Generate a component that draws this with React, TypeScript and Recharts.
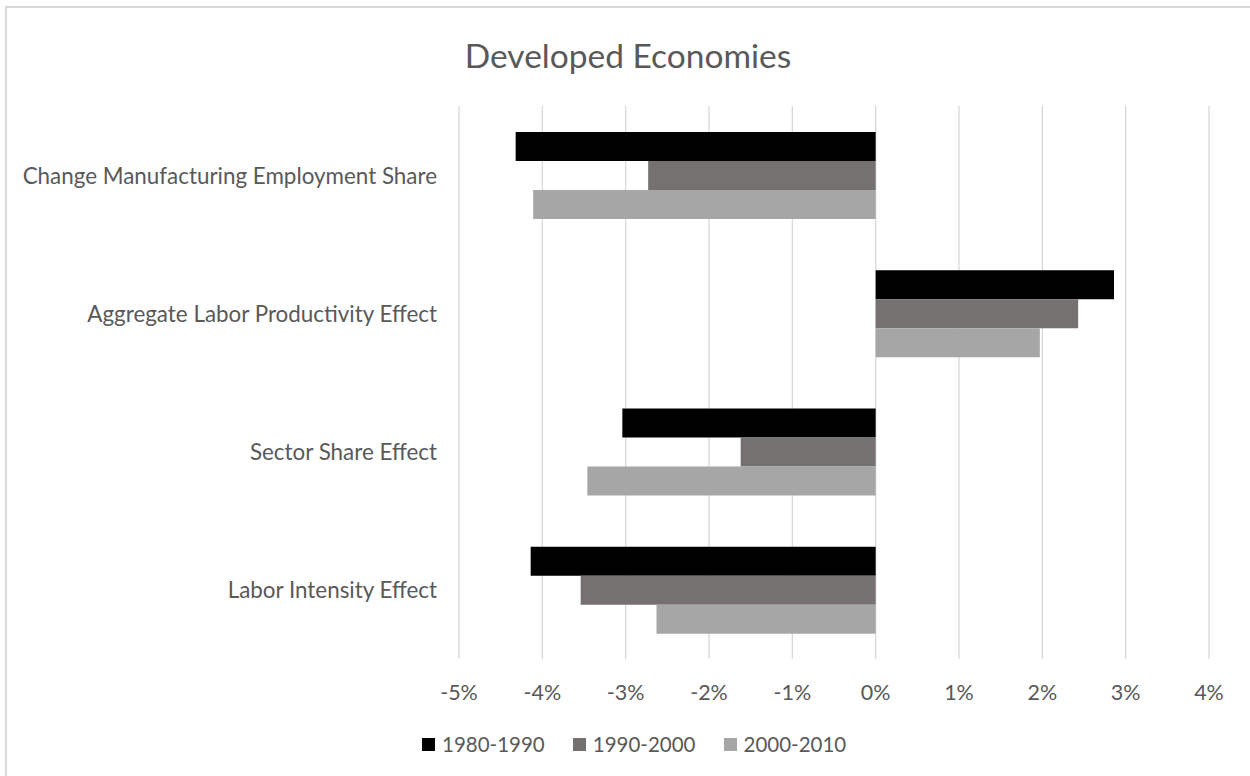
import React from 'react';
import { BarChart, Bar, XAxis, YAxis, CartesianGrid, Legend } from 'recharts';

const categories = [
  'Change Manufacturing Employment Share',
  'Aggregate Labor Productivity Effect',
  'Sector Share Effect',
  'Labor Intensity Effect',
];
const s1980 = [-4.32, 2.86, -3.04, -4.14];
const s1990 = [-2.73, 2.43, -1.62, -3.54];
const s2000 = [-4.11, 1.97, -3.46, -2.63];
const xTicks = [-5, -4, -3, -2, -1, 0, 1, 2, 3, 4];
const seriesKeys = ['p1980', 'p1990', 'p2000'];
const seriesNames = ['1980-1990', '1990-2000', '2000-2010'];
const seriesColors = ['#000000', '#767171', '#A6A6A6'];

const data = categories.map((name, i) => ({
  name,
  p1980: s1980[i],
  p1990: s1990[i],
  p2000: s2000[i],
}));

const FONT = 'Lato, "Open Sans", sans-serif';
const TEXT = '#595959';

const CategoryTick = (props: any) => {
  const { y, payload } = props;
  return (
    <text x={437} y={y} textAnchor="end" dominantBaseline="central" fontFamily={FONT} fontSize={22.4} fill={TEXT}>
      {payload.value}
    </text>
  );
};

const ValueTick = (props: any) => {
  const { x, payload } = props;
  return (
    <text x={x} y={692} textAnchor="middle" dominantBaseline="central" fontFamily={FONT} fontSize={21.5} fill={TEXT}>
      {`${payload.value}%`}
    </text>
  );
};

const LegendContent = () => (
  <div style={{ display: 'flex', alignItems: 'center', paddingLeft: 422, fontFamily: FONT, fontSize: 20.5, color: TEXT, height: 24 }}>
    {seriesNames.map((n, i) => (
      <div key={n} style={{ display: 'flex', alignItems: 'center', marginRight: 28 }}>
        <span style={{ display: 'inline-block', width: 13, height: 13, background: seriesColors[i], marginRight: 7 }} />
        <span>{n}</span>
      </div>
    ))}
  </div>
);

export default function App() {
  return (
    <div style={{ position: 'absolute', left: 0, top: 0, width: 1250, height: 776, overflow: 'hidden', background: '#fff' }}>
      <div style={{ position: 'absolute', left: 5, top: 6, width: 1400, height: 900, border: '2px solid #D9D9D9', boxSizing: 'border-box' }} />
      <div style={{ position: 'absolute', left: 0, top: 33, width: 1256, textAlign: 'center', fontFamily: FONT, fontSize: 33.5, color: TEXT, lineHeight: '44px' }}>
        Developed Economies
      </div>
      <div style={{ position: 'absolute', left: 0, top: 0 }}>
        <BarChart
          width={1250}
          height={776}
          data={data}
          layout="vertical"
          margin={{ top: 106, right: 41, bottom: 0, left: 0 }}
          barCategoryGap={26}
          barGap={0}
        >
          <CartesianGrid horizontal={false} stroke="#D9D9D9" strokeWidth={1.3} />
          <XAxis
            type="number"
            domain={[-5, 4]}
            ticks={xTicks}
            height={117}
            axisLine={false}
            tickLine={false}
            tick={<ValueTick />}
            interval={0}
          />
          <YAxis
            type="category"
            dataKey="name"
            width={459}
            axisLine={false}
            tickLine={false}
            tick={<CategoryTick />}
            interval={0}
          />
          <Legend
            verticalAlign="middle"
            align="center"
            layout="horizontal"
            wrapperStyle={{ top: 732, left: 0, width: 1250 }}
            content={<LegendContent />}
          />
          {seriesKeys.map((k, i) => (
            <Bar key={k} dataKey={k} name={seriesNames[i]} fill={seriesColors[i]} isAnimationActive={false} />
          ))}
        </BarChart>
      </div>
    </div>
  );
}
